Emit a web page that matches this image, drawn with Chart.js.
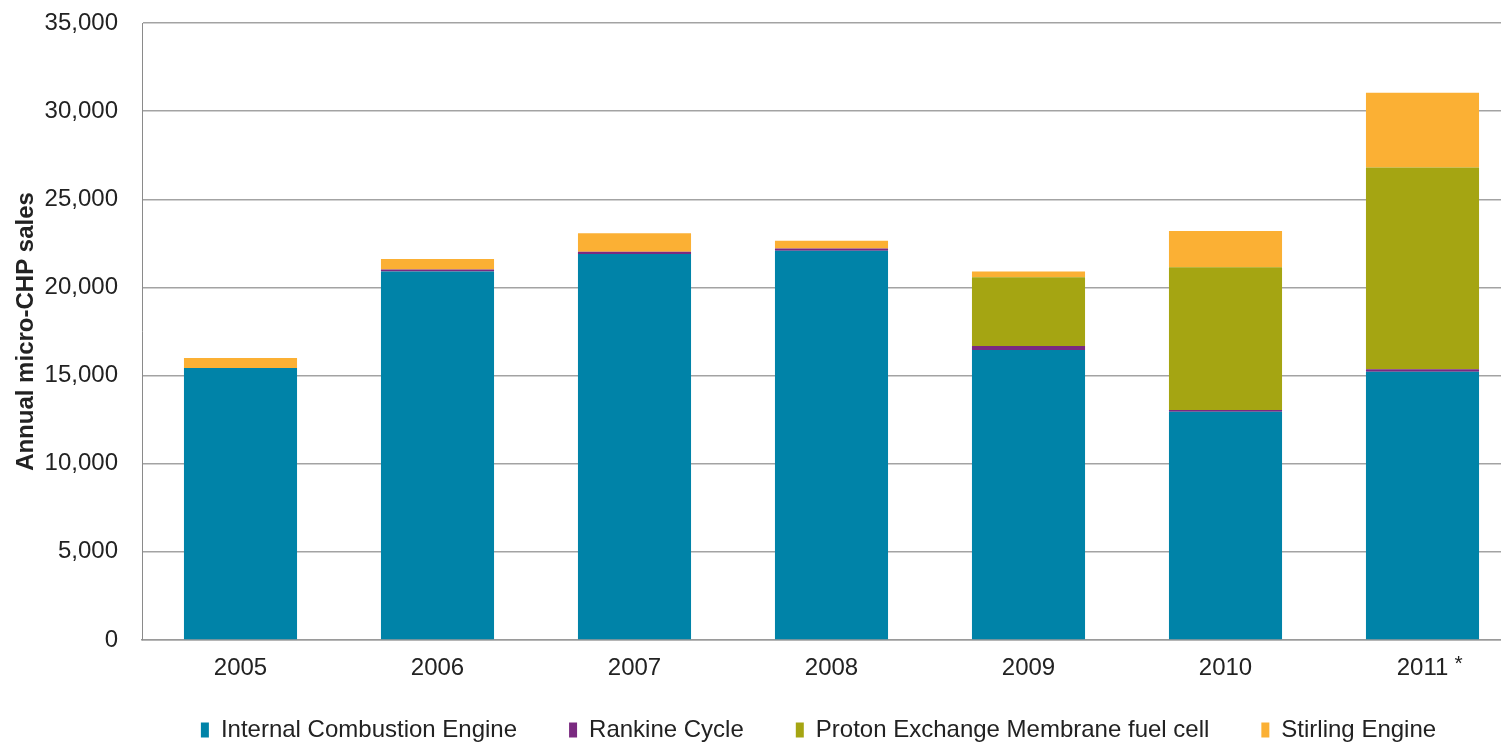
<!DOCTYPE html>
<html>
<head>
<meta charset="utf-8">
<title>Annual micro-CHP sales</title>
<script src="https://cdn.jsdelivr.net/npm/chart.js@4.4.1/dist/chart.umd.min.js"></script>
<style>
    html, body { margin: 0; padding: 0; background: #fff; overflow: hidden; }
    #wrap { width: 1501px; height: 744px; overflow: hidden; }
    #microChpChart { display: block; }
</style>
</head>
<body>
<div id="wrap"><canvas id="microChpChart" width="1521" height="744"></canvas></div>
<script>
const YEARS = ['2005', '2006', '2007', '2008', '2009', '2010', '2011'];
const ICE = [15430, 20900, 21900, 22080, 16450, 12950, 15220];
const RANKINE = [0, 110, 130, 135, 227, 100, 136];
const PEM = [0, 0, 0, 0, 3900, 8090, 11440];
const STIRLING = [570, 600, 1040, 430, 320, 2060, 4250];
const SERIES_NAMES = ['Internal Combustion Engine', 'Rankine Cycle', 'Proton Exchange Membrane fuel cell', 'Stirling Engine'];
const SERIES_COLORS = ['#0083A8', '#7A2A80', '#A5A512', '#FBB034'];
const Y_TICKS = [0, 5000, 10000, 15000, 20000, 25000, 30000, 35000];
const NOTE_INDEX = 6;
const NOTE_MARK = '*';

const FONT = '"Liberation Sans", Arial, sans-serif';
const TEXT_COLOR = '#222';

/**
 * MicroChp(chartId) - holds the canvas id and the chart instance.
 * @param chartId
 */
function MicroChp(chartId) {
    this.chartId = chartId;
    this.chart = null;
}

MicroChp.prototype.init = function() {
    this.chart = this.generateChartOption();
};

/**
 * Builds the stacked bar datasets from the named arrays above.
 * @returns
 */
MicroChp.prototype.generateChartData = function() {
    return [ICE, RANKINE, PEM, STIRLING].map((values, index) => ({
        label: SERIES_NAMES[index],
        data: values,
        backgroundColor: SERIES_COLORS[index],
        borderWidth: 0,
        categoryPercentage: 1,
        barPercentage: 0.574
    }));
};

/**
 * Legend is centred on the original (wider) page and sits a bit lower,
 * so nudge it after layout. Only the top moves so nothing gets clipped.
 */
const legendShift = {
    id: 'legendShift',
    afterLayout(chart) {
        const lg = chart.legend;
        lg.left += 58; lg.right += 58;
        lg.top = chart.height - 78;
    }
};

/**
 * Small superscript mark after the last year label.
 */
const noteMark = {
    id: 'noteMark',
    afterDraw(chart) {
        const x = chart.scales.x;
        const ctx = chart.ctx;
        ctx.save();
        ctx.font = '21px ' + FONT;
        ctx.fillStyle = TEXT_COLOR;
        ctx.textAlign = 'center';
        ctx.textBaseline = 'top';
        ctx.fillText(NOTE_MARK, x.getPixelForValue(NOTE_INDEX) + 36, x.top + 14);
        ctx.restore();
    }
};

MicroChp.prototype.generateChartOption = function() {
    const ctx = document.getElementById(this.chartId).getContext('2d');
    return new Chart(ctx, {
        type: 'bar',
        data: {
            labels: YEARS,
            datasets: this.generateChartData()
        },
        plugins: [legendShift, noteMark],
        options: {
            responsive: false,
            animation: false,
            layout: { autoPadding: false, padding: { top: 23, right: 0, bottom: 0, left: 0 } },
            plugins: {
                tooltip: { enabled: false },
                legend: {
                    position: 'bottom',
                    maxHeight: 61,
                    labels: {
                        boxWidth: 8,
                        boxHeight: 15,
                        padding: 52,
                        color: TEXT_COLOR,
                        font: { family: FONT, size: 24 }
                    }
                }
            },
            scales: {
                x: {
                    stacked: true,
                    grid: { display: false, drawTicks: false },
                    border: { display: true, color: '#9a9a9a', width: 1.5 },
                    ticks: {
                        padding: 14,
                        color: TEXT_COLOR,
                        font: { family: FONT, size: 24 }
                    },
                    afterFit: (scale) => { scale.height = 43; }
                },
                y: {
                    stacked: true,
                    min: 0,
                    max: 35000,
                    afterBuildTicks: (scale) => { scale.ticks = Y_TICKS.map(v => ({ value: v })); },
                    // invisible tick marks keep the labels 24px off the axis
                    grid: { color: '#a3a3a3', lineWidth: 1.5, drawTicks: true, tickLength: 24, tickColor: 'rgba(0,0,0,0)' },
                    border: { display: true, color: '#8a8a8a', width: 1 },
                    ticks: {
                        padding: 0,
                        color: TEXT_COLOR,
                        font: { family: FONT, size: 24 },
                        callback: (value) => value.toLocaleString('en-US')
                    },
                    title: {
                        display: true,
                        text: 'Annual micro-CHP sales',
                        color: TEXT_COLOR,
                        padding: { top: 12, bottom: 0 },
                        font: { family: FONT, size: 24, weight: 'bold' }
                    },
                    afterFit: (scale) => { scale.width = 142; }
                }
            }
        }
    });
};

document.addEventListener('DOMContentLoaded', function() {
    const microChp = new MicroChp('microChpChart');
    microChp.init();
});
</script>
</body>
</html>
